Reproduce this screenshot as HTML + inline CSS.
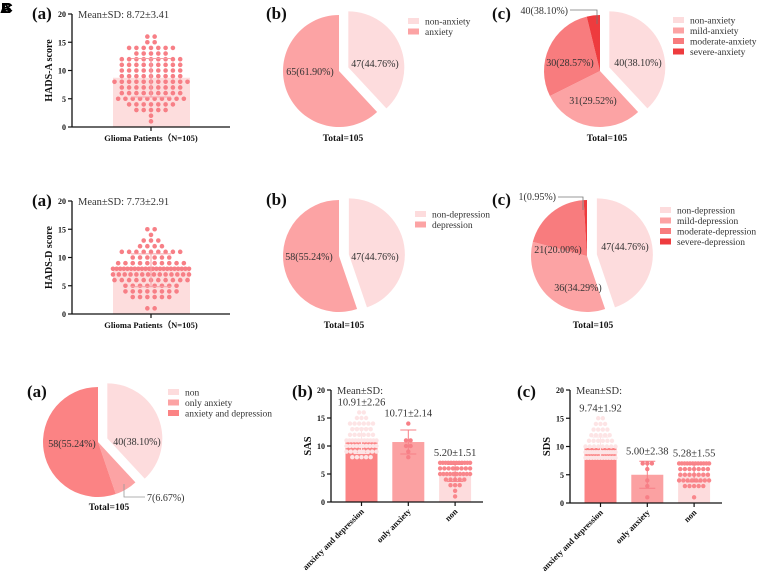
<!DOCTYPE html>
<html><head><meta charset="utf-8"><style>
html,body{margin:0;padding:0;background:#fff;}
svg{display:block;font-family:"Liberation Serif",serif;}
</style></head><body>
<svg id="fig" width="758" height="575" viewBox="0 0 758 575" xmlns="http://www.w3.org/2000/svg">
<g font-weight="bold" font-size="15" fill="#000" font-family="Liberation Sans, sans-serif">
<text x="0" y="13">A</text><text x="1" y="13">B</text><text x="2" y="13">C</text>
</g>
</svg>
<script>
// ---------- DATA ----------
const hadsALevels = [1,2,3,4,5,6,7,8,9,10,11,12,13,14,15,16];
const hadsACounts = [1,1,5,7,10,9,9,11,9,9,9,9,5,7,2,2];
const hadsAMean = 8.72, hadsASD = 3.41;
const hadsDLevels = [1,2,3,4,5,6,7,8,9,10,11,12,13,14,15];
const hadsDCounts = [2,0,6,8,8,11,14,22,10,6,9,4,3,1,2];
const hadsDMean = 7.73, hadsDSD = 2.91;

const pieAnxValues = [40,65];
const pieAnxLabels = ["47(44.76%)","65(61.90%)"];
const pieAnxSevValues = [40,31,30,4];
const pieAnxSevLabels = ["40(38.10%)","31(29.52%)","30(28.57%)","40(38.10%)"];
const pieDepValues = [47,58];
const pieDepLabels = ["47(44.76%)","58(55.24%)"];
const pieDepSevValues = [47,36,21,1];
const pieDepSevLabels = ["47(44.76%)","36(34.29%)","21(20.00%)","1(0.95%)"];
const pieGroupValues = [40,7,58];
const pieGroupLabels = ["40(38.10%)","7(6.67%)","58(55.24%)"];

const groupCategories = ["anxiety and depression","only anxiety","non"];
const sasMeans = [10.91,10.71,5.20];
const sasSDs = [2.26,2.14,1.51];
const sasLabels = ["10.91±2.26","10.71±2.14","5.20±1.51"];
const sasDotLevels = [[8,9,10,11,12,13,14,15,16],[8,9,10,11,12,13,14],[1,2,3,4,5,6,7]];
const sasDotCounts = [[5,8,10,11,6,5,6,3,2],[1,1,2,2,0,0,1],[1,1,3,5,10,8,12]];
const sdsMeans = [9.74,5.00,5.28];
const sdsSDs = [1.92,2.38,1.55];
const sdsLabels = ["9.74±1.92","5.00±2.38","5.28±1.55"];
const sdsDotLevels = [[8,9,10,11,12,13,14,15],[1,2,3,4,5,6,7],[1,2,3,4,5,6,7]];
const sdsDotCounts = [[12,14,8,6,5,4,3,2],[1,0,1,1,0,1,3],[1,0,5,8,7,7,12]];
const yTicks = [0,5,10,15,20];

// ---------- HELPERS ----------
const svg = document.getElementById('fig');
const NS = 'http://www.w3.org/2000/svg';
function mk(tag, attrs, parent, txt){
  const e = document.createElementNS(NS, tag);
  for (const k in attrs) e.setAttribute(k, attrs[k]);
  if (txt !== undefined) e.textContent = txt;
  (parent||svg).appendChild(e);
  return e;
}
function grp(name){
  const g = mk('g', {});
  
  
  return g;
}
function label(g, x, y, t, size, bold, anchor, fill){
  return mk('text', {x:x, y:y, 'font-size':size, 'font-weight':bold?'bold':'normal', 'text-anchor':anchor||'start', fill:fill||'#222'}, g, t);
}

function yAxis(g, ax, y0, ppu, name){
  const a = mk('line', {x1:ax, y1:y0, x2:ax, y2:y0-20*ppu, stroke:'#111', 'stroke-width':1.3}, g);
  
  
  yTicks.forEach(t => {
    const y = y0 - t*ppu;
    mk('line', {x1:ax-4, y1:y, x2:ax, y2:y, stroke:'#111', 'stroke-width':1.2}, g);
    const tl = label(g, ax-6, y+3, String(t), 8, true, 'end', '#111');
    
    
  });
}

function dotRow(g, cx, y, n, maxW, step, r, color){
  if (n <= 0) return;
  let s = step;
  if (n > 1 && (n-1)*s > maxW) s = maxW/(n-1);
  const start = cx - (n-1)*s/2;
  for (let i=0;i<n;i++){
    const c = mk('circle', {cx:start+i*s, cy:y, r:r, fill:color}, g);
    
    
  }
}

// ---------- SCATTER PANELS (a) ----------
function scatterPanel(name, y0, levels, counts, mean, sd, ytitle){
  const g = grp(name);
  const ax = 72, ppu = 5.65, cx = 151;
  const ys = v => y0 - v*ppu;
  const bar = mk('rect', {x:113, y:ys(mean), width:77, height:y0-ys(mean), fill:'#fddddd'}, g);
  
  
  levels.forEach((lv,i) => dotRow(g, cx, ys(lv), counts[i], 76, 7.3, 2.3, '#f77f86'));
  mk('line', {x1:cx, y1:ys(mean-sd), x2:cx, y2:ys(mean+sd), stroke:'#f7a0a6', 'stroke-width':1}, g);
  mk('line', {x1:cx-20, y1:ys(mean+sd), x2:cx+20, y2:ys(mean+sd), stroke:'#f7a0a6', 'stroke-width':1}, g);
  mk('line', {x1:cx-20, y1:ys(mean-sd), x2:cx+20, y2:ys(mean-sd), stroke:'#f7a0a6', 'stroke-width':1}, g);
  yAxis(g, ax, y0, ppu, name);
  const xa = mk('line', {x1:ax, y1:y0, x2:230, y2:y0, stroke:'#111', 'stroke-width':1.3}, g);
   
  mk('line', {x1:cx, y1:y0, x2:cx, y2:y0+4, stroke:'#111', 'stroke-width':1.2}, g);
  const xt = label(g, cx, y0+14, 'Glioma Patients（N=105)', 8.5, true, 'middle', '#111');
   
  const yt = label(g, 0, 0, ytitle, 10, true, 'middle', '#111');
  yt.setAttribute('transform', `translate(52,${y0-10*ppu}) rotate(-90)`);
   
  const ms = label(g, 78, y0-20*ppu+4, `Mean±SD:  ${mean.toFixed(2)}±${sd.toFixed(2)}`, 10.5, false, 'start', '#333');
   
  const pl = label(g, 32, y0-20*ppu+5, '(a)', 17, true, 'start', '#111');
   
}
scatterPanel('hads-a-scatter', 127, hadsALevels, hadsACounts, hadsAMean, hadsASD, 'HADS-A score');
scatterPanel('hads-d-scatter', 314, hadsDLevels, hadsDCounts, hadsDMean, hadsDSD, 'HADS-D score');

// ---------- PIES ----------
function pie(name, cx, cy, r, values, colors, explode, labels, labelPos, legendNames, legX, legY, totalX, totalY){
  const g = grp(name);
  const total = values.reduce((a,b)=>a+b,0);
  let a0 = 0;
  values.forEach((v,i) => {
    const a1 = a0 + v/total*2*Math.PI;
    const mid = (a0+a1)/2;
    const off = i===explode ? 10 : 0;
    const ox = cx + off*Math.sin(mid), oy = cy - off*Math.cos(mid);
    const x0 = ox + r*Math.sin(a0), y0 = oy - r*Math.cos(a0);
    const x1 = ox + r*Math.sin(a1), y1 = oy - r*Math.cos(a1);
    const large = (a1-a0) > Math.PI ? 1 : 0;
    const p = mk('path', {d:`M${ox},${oy} L${x0},${y0} A${r},${r} 0 ${large} 1 ${x1},${y1} Z`, fill:colors[i]}, g);
    
    
    a0 = a1;
  });
  labels.forEach((t,i) => {
    if (!labelPos[i]) return;
    const e = label(g, labelPos[i][0], labelPos[i][1]+4, t, 10, false, 'middle', '#333');
     
  });
  legendNames.forEach((n,i) => {
    const y = legY + i*10.5;
    const sw = mk('rect', {x:legX, y:y-3, width:11, height:6, fill:colors[i]}, g);
     
    const lt = label(g, legX+17, y+3.5, n, 9.5, false, 'start', '#333');
     
  });
  const tt = label(g, totalX, totalY, 'Total=105', 9.5, true, 'middle', '#111');
   
  return g;
}
const cLight='#fddcdd', cMid='#fca3a4', cMod='#f87c7e', cSev='#ee3b3e', cAD='#fb8384';

pie('anxiety-pie', 339, 71, 56, pieAnxValues, [cLight,cMid], 0, pieAnxLabels,
  [[375,63],[310,71]], ['non-anxiety','anxiety'], 408, 21, 343, 141);
pie('anxiety-severity-pie', 600, 71, 56, pieAnxSevValues, [cLight,cMid,cMod,cSev], 0, pieAnxSevLabels,
  [[638,62],[593,100],[570,62],null], ['non-anxiety','mild-anxiety','moderate-anxiety','severe-anxiety'], 673, 20, 607, 141);
pie('depression-pie', 339, 256, 56, pieDepValues, [cLight,cMid], 0, pieDepLabels,
  [[375,256],[309,256]], ['non-depression','depression'], 415, 214, 344, 328);
pie('depression-severity-pie', 587, 256, 56, pieDepSevValues, [cLight,cMid,cMod,cSev], 0, pieDepSevLabels,
  [[625,246],[578,287],[558,249],null], ['non-depression','mild-depression','moderate-depression','severe-depression'], 660, 210, 593, 328);
pie('group-pie', 98, 442, 55, pieGroupValues, [cLight,cMid,cAD], 0, pieGroupLabels,
  [[137,441],null,[72,443]], ['non','only anxiety','anxiety and depression'], 168, 392, 109, 510);

// external labels
(function(){
  const g = grp('external-slice-labels');
  mk('polyline', {points:'570,10 597,10 597,24', fill:'none', stroke:'#777', 'stroke-width':0.8}, g);
  label(g, 568, 14, pieAnxSevLabels[3], 10, false, 'end', '#333');
  mk('polyline', {points:'558,197 583,197 583,210', fill:'none', stroke:'#777', 'stroke-width':0.8}, g);
  label(g, 556, 200, pieDepSevLabels[3], 10, false, 'end', '#333');
  mk('polyline', {points:'124,484 124,497 145,497', fill:'none', stroke:'#999', 'stroke-width':0.8}, g);
  label(g, 147, 501, pieGroupLabels[1], 10, false, 'start', '#333');
})();

// pie panel letters
(function(){
  const g = grp('panel-labels');
  [['(b)',266,14],['(c)',492,14],['(b)',266,200],['(c)',492,200],['(a)',27,392],['(b)',292,392],['(c)',517,392]].forEach(p=>{
    const e = label(g, p[1], p[2]+5, p[0], 17, true, 'start', '#111');
     
  });
})();

// ---------- GROUP BAR CHARTS ----------
function barPanel(name, ax, y0, ppu, means, sds, vlabels, dotLevels, dotCounts, ytitle){
  const g = grp(name);
  const ys = v => y0 - v*ppu;
  const barCol = [cAD, '#fba1a2', '#fddcdd'];
  const dotCol = ['#fde4e5', '#f77f86', '#f9868b'];
  const bw = 32;
  groupCategories.forEach((cat,i) => {
    const cx = ax + 30.5 + i*46.8;
    const b = mk('rect', {x:cx-bw/2, y:ys(means[i]), width:bw, height:y0-ys(means[i]), fill:barCol[i]}, g);
    
    
    dotLevels[i].forEach((lv,j) => dotRow(g, cx, ys(lv), dotCounts[i][j], 30, 4.6, 2.2, dotCol[i]));
    const ec = i===0 ? '#fde4e5' : '#f77f86';
    mk('line', {x1:cx, y1:ys(means[i]-sds[i]), x2:cx, y2:ys(means[i]+sds[i]), stroke:ec, 'stroke-width':1}, g);
    mk('line', {x1:cx-8, y1:ys(means[i]+sds[i]), x2:cx+8, y2:ys(means[i]+sds[i]), stroke:ec, 'stroke-width':1}, g);
    mk('line', {x1:cx-8, y1:ys(means[i]-sds[i]), x2:cx+8, y2:ys(means[i]-sds[i]), stroke:ec, 'stroke-width':1}, g);
    let topV = means[i]+sds[i];
    dotLevels[i].forEach((lv,j)=>{ if (dotCounts[i][j]>0 && lv>topV) topV = lv; });
    const vl = label(g, cx, ys(topV)-7, vlabels[i], 10.5, false, 'middle', '#333');
     
    mk('line', {x1:cx, y1:y0, x2:cx, y2:y0+4, stroke:'#111', 'stroke-width':1.2}, g);
    const xl = label(g, 0, 0, cat, 8.5, true, 'end', '#111');
    xl.setAttribute('transform', `translate(${cx+3},${y0+10}) rotate(-45)`);
     
  });
  yAxis(g, ax, y0, ppu, name);
  const xa = mk('line', {x1:ax, y1:y0, x2:ax+152, y2:y0, stroke:'#111', 'stroke-width':1.3}, g);
   
  const yt = label(g, 0, 0, ytitle, 10.5, true, 'middle', '#111');
  yt.setAttribute('transform', `translate(${ax-20},${y0-10*ppu}) rotate(-90)`);
   
  const ms = label(g, ax+6, y0-20*ppu+4, 'Mean±SD:', 10.5, false, 'start', '#333');
   
}
barPanel('sas-bar-chart', 331, 502, 5.6, sasMeans, sasSDs, sasLabels, sasDotLevels, sasDotCounts, 'SAS');
barPanel('sds-bar-chart', 570, 503, 5.65, sdsMeans, sdsSDs, sdsLabels, sdsDotLevels, sdsDotCounts, 'SDS');
</script>
</body></html>
